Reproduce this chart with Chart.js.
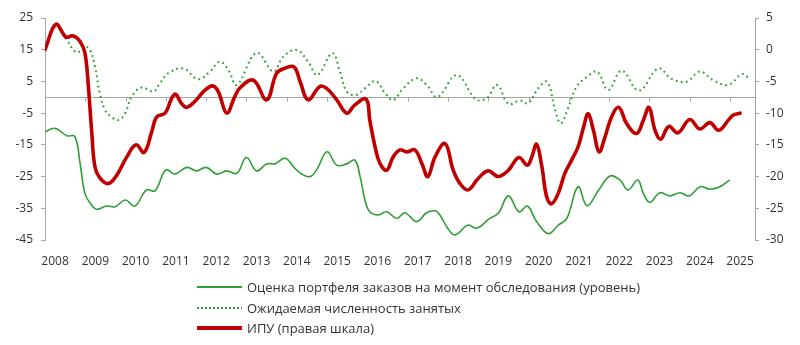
<!DOCTYPE html>
<html lang="ru">
<head>
<meta charset="utf-8">
<title>ИПУ и опросы</title>
<script src="https://cdn.jsdelivr.net/npm/chart.js@4/dist/chart.umd.min.js"></script>
<style>
    body { margin: 0; background: #fff; }
    #wrap { position: relative; width: 800px; height: 345px; }
    #chart { position: absolute; left: 0; top: 0; }
    .legend { position: absolute; left: 197px; top: 277px; font-family: 'Open Sans', sans-serif; font-size: 13px; color: #333; }
    .legend-row { display: flex; align-items: center; height: 20.5px; white-space: nowrap; }
    .swatch { width: 45px; margin-right: 5px; }
</style>
</head>
<body>
<div id="wrap">
    <canvas id="chart" width="800" height="345"></canvas>
    <div class="legend" id="legend"></div>
</div>
<script>
// Axis labels
const yearLabels = ['2008', '2009', '2010', '2011', '2012', '2013', '2014', '2015', '2016',
    '2017', '2018', '2019', '2020', '2021', '2022', '2023', '2024', '2025'];
const leftTicks = [-45, -35, -25, -15, -5, 5, 15, 25];
const rightTicks = [-30, -25, -20, -15, -10, -5, 0, 5];

// Оценка портфеля заказов (left scale)
const ordersDates = [2008.00, 2008.25, 2008.54, 2008.74, 2008.87, 2008.99, 2009.12, 2009.28, 2009.53, 2009.74,
    2009.99, 2010.23, 2010.52, 2010.73, 2011.00, 2011.23, 2011.52, 2011.76, 2012.00, 2012.26,
    2012.51, 2012.76, 2013.00, 2013.25, 2013.50, 2013.71, 2013.96, 2014.20, 2014.37, 2014.58,
    2014.74, 2015.00, 2015.24, 2015.49, 2015.69, 2015.82, 2015.94, 2016.06, 2016.27, 2016.48,
    2016.73, 2016.93, 2017.22, 2017.47, 2017.68, 2017.80, 2017.97, 2018.17, 2018.50, 2018.71,
    2019.04, 2019.25, 2019.50, 2019.76, 2019.97, 2020.20, 2020.49, 2020.74, 2020.95, 2021.23,
    2021.45, 2021.73, 2022.02, 2022.27, 2022.47, 2022.71, 2022.85, 2023.01, 2023.26, 2023.51,
    2023.76, 2023.99, 2024.26, 2024.50, 2024.75, 2024.98];
const ordersValues = [-10.9, -9.8, -12.1, -12.4, -20.8, -30.3, -33.4, -35.3, -34.3, -34.5,
    -32.4, -34.3, -29.2, -29.5, -22.9, -24.2, -22.1, -23.2, -22.1, -24.2,
    -23.2, -24.0, -19.0, -23.2, -21.0, -21.0, -19.2, -22.4, -24.2, -25.0,
    -22.9, -17.2, -21.4, -21.0, -19.8, -25.0, -32.4, -36.1, -37.1, -36.1,
    -38.2, -36.4, -39.2, -36.4, -35.8, -37.1, -40.8, -43.4, -40.3, -41.3,
    -38.2, -36.6, -31.1, -36.1, -34.3, -39.2, -43.0, -40.3, -38.2, -28.2,
    -34.2, -29.5, -24.8, -26.1, -29.2, -26.1, -30.3, -33.1, -30.1, -31.1,
    -30.1, -31.1, -28.2, -29.0, -28.2, -26.2];

// Ожидаемая численность занятых (left scale)
const employDates = [2008.50, 2008.79, 2008.99, 2009.12, 2009.24, 2009.36, 2009.49, 2009.66, 2009.82, 2009.99,
    2010.15, 2010.40, 2010.69, 2010.85, 2011.06, 2011.43, 2011.80, 2012.09, 2012.34, 2012.55,
    2012.76, 2013.25, 2013.67, 2013.91, 2014.25, 2014.53, 2014.76, 2015.13, 2015.32, 2015.49,
    2015.71, 2015.94, 2016.20, 2016.44, 2016.64, 2016.89, 2017.22, 2017.47, 2017.74, 2018.22,
    2018.69, 2018.96, 2019.22, 2019.50, 2019.79, 2019.99, 2020.24, 2020.46, 2020.66, 2020.80,
    2020.98, 2021.19, 2021.44, 2021.70, 2021.98, 2022.31, 2022.74, 2023.22, 2023.55, 2023.92,
    2024.25, 2024.58, 2024.96, 2025.29, 2025.48];
const employValues = [18.8, 14.1, 16.0, 14.9, 9.6, 1.3, -4.0, -6.3, -7.2, -5.0,
    0.2, 3.1, 1.8, 4.4, 7.6, 9.1, 5.7, 8.1, 11.2, 8.6,
    3.9, 14.0, 8.1, 12.8, 14.9, 11.2, 7.0, 13.9, 8.1, 1.8,
    0.7, 2.8, 5.1, 1.3, -0.9, 2.8, 6.0, 3.9, 0.1, 7.0,
    -0.6, -0.3, 3.9, -2.1, -1.0, -1.9, 2.8, 4.9, -4.0, -8.2,
    -3.5, 3.3, 6.3, 8.1, 2.3, 8.4, 2.1, 9.1, 5.8, 4.9,
    8.1, 5.4, 3.9, 7.3, 6.0];

// ИПУ (right scale)
const ipuDates = [2008.00, 2008.27, 2008.52, 2008.69, 2008.87, 2008.99, 2009.07, 2009.16, 2009.24, 2009.36,
    2009.57, 2009.78, 2010.03, 2010.26, 2010.46, 2010.65, 2010.77, 2010.98, 2011.14, 2011.24,
    2011.39, 2011.52, 2011.76, 2011.93, 2012.16, 2012.30, 2012.51, 2012.71, 2012.84, 2013.17,
    2013.50, 2013.75, 2013.96, 2014.18, 2014.33, 2014.53, 2014.82, 2014.99, 2015.24, 2015.49,
    2015.69, 2015.97, 2016.06, 2016.19, 2016.31, 2016.48, 2016.64, 2016.81, 2016.98, 2017.18,
    2017.35, 2017.50, 2017.68, 2017.93, 2018.13, 2018.30, 2018.50, 2018.75, 2019.00, 2019.25,
    2019.50, 2019.76, 2019.97, 2020.08, 2020.20, 2020.33, 2020.45, 2020.57, 2020.74, 2020.90,
    2021.07, 2021.23, 2021.37, 2021.48, 2021.61, 2021.75, 2021.90, 2022.06, 2022.24, 2022.43,
    2022.68, 2022.85, 2022.99, 2023.14, 2023.28, 2023.48, 2023.71, 2024.00, 2024.25, 2024.50,
    2024.72, 2024.96, 2025.08, 2025.25];
const ipuValues = [0.0, 4.0, 2.0, 2.2, 1.3, -0.5, -5.3, -13.0, -18.5, -20.2,
    -21.1, -19.8, -16.9, -15.0, -16.2, -12.9, -10.6, -10.0, -7.7, -7.0,
    -8.5, -9.1, -7.9, -6.6, -5.7, -6.6, -10.0, -7.4, -6.0, -4.8,
    -7.9, -3.7, -2.9, -2.7, -5.0, -7.9, -5.8, -6.1, -7.9, -10.0,
    -8.7, -7.8, -11.1, -15.3, -17.9, -19.0, -16.9, -15.8, -16.1, -15.8,
    -17.9, -20.0, -16.9, -14.8, -19.0, -21.1, -22.1, -20.3, -19.1, -20.0,
    -19.0, -17.0, -18.2, -16.9, -14.9, -18.4, -23.2, -24.3, -22.6, -19.5,
    -17.4, -15.3, -12.1, -10.1, -12.7, -16.1, -13.7, -10.6, -9.1, -11.6,
    -13.2, -11.1, -9.1, -12.7, -14.1, -12.1, -13.1, -11.0, -12.5, -11.5,
    -12.7, -11.1, -10.3, -10.0];

const legendLabels = [
    'Оценка портфеля заказов на момент обследования (уровень)',
    'Ожидаемая численность занятых',
    'ИПУ (правая шкала)'
];

const GREEN = '#2f9e35';
const RED = '#c00000';
const AXIS = '#a6a6a6';
const TICK_FONT = { family: 'Open Sans', size: 12 };

const toPoints = (xs, ys) => xs.map((x, i) => ({ x: x, y: ys[i] }));

// Zero line of the left scale with year ticks hanging below it
const zeroLine = {
    id: 'zeroLine',
    beforeDatasetsDraw(chart) {
        const { ctx, chartArea, scales } = chart;
        const y = Math.round(scales.y.getPixelForValue(0)) + 0.5;
        ctx.save();
        ctx.strokeStyle = AXIS;
        ctx.lineWidth = 1;
        ctx.beginPath();
        ctx.moveTo(chartArea.left, y);
        ctx.lineTo(chartArea.right, y);
        yearLabels.forEach(label => {
            const x = Math.round(scales.x.getPixelForValue(+label)) + 0.5;
            ctx.moveTo(x, y);
            ctx.lineTo(x, y + 4);
        });
        ctx.stroke();
        ctx.restore();
    }
};

// Initialize chart
const chart = new Chart(document.getElementById('chart'), {
    type: 'line',
    data: {
        datasets: [
            {
                label: legendLabels[0],
                data: toPoints(ordersDates, ordersValues),
                borderColor: GREEN,
                borderWidth: 1.6,
                yAxisID: 'y',
                order: 2
            },
            {
                label: legendLabels[1],
                data: toPoints(employDates, employValues),
                borderColor: GREEN,
                borderWidth: 2,
                borderDash: [1.8, 3.4],
                borderCapStyle: 'butt',
                yAxisID: 'y',
                order: 1
            },
            {
                label: legendLabels[2],
                data: toPoints(ipuDates, ipuValues),
                borderColor: RED,
                borderWidth: 3.6,
                yAxisID: 'y1',
                order: 0
            }
        ]
    },
    options: {
        responsive: false,
        animation: false,
        layout: { padding: { top: 18, left: 0, right: 0, bottom: 0 } },
        elements: {
            point: { radius: 0, hoverRadius: 0 },
            line: { tension: 0.4, fill: false, borderCapStyle: 'round', borderJoinStyle: 'round' }
        },
        plugins: {
            legend: { display: false },
            tooltip: { enabled: false }
        },
        scales: {
            x: {
                type: 'linear',
                min: 2008,
                max: 2025.62,
                afterBuildTicks: scale => {
                    scale.ticks = yearLabels.map(label => ({ value: +label + 0.25 }));
                },
                afterFit: scale => { scale.height = 105; },
                ticks: {
                    autoSkip: false,
                    maxRotation: 0,
                    padding: 6,
                    color: '#333',
                    font: TICK_FONT,
                    callback: (value, index) => yearLabels[index]
                },
                grid: { display: false },
                border: { display: false }
            },
            y: {
                position: 'left',
                min: -45,
                max: 25,
                afterBuildTicks: scale => {
                    scale.ticks = leftTicks.map(v => ({ value: v }));
                },
                afterFit: scale => { scale.width = 45; },
                ticks: { padding: 8, color: '#333', font: TICK_FONT },
                grid: { drawOnChartArea: false, drawTicks: true, tickLength: 4, color: AXIS },
                border: { display: true, color: AXIS }
            },
            y1: {
                position: 'right',
                min: -30,
                max: 5,
                afterBuildTicks: scale => {
                    scale.ticks = rightTicks.map(v => ({ value: v }));
                },
                afterFit: scale => { scale.width = 45; },
                ticks: { padding: 7, color: '#333', font: TICK_FONT },
                grid: { drawOnChartArea: false, drawTicks: true, tickLength: 4, color: AXIS },
                border: { display: true, color: AXIS }
            }
        }
    },
    plugins: [zeroLine]
});

// Legend rows under the chart
const legend = document.getElementById('legend');
const swatchStyles = [
    'height: 2px; background: ' + GREEN,
    'height: 2px; background: repeating-linear-gradient(90deg, ' + GREEN + ' 0 2px, transparent 2px 4px)',
    'height: 4px; background: ' + RED
];
legendLabels.forEach((text, i) => {
    const row = document.createElement('div');
    row.className = 'legend-row';
    row.innerHTML = `<span class="swatch" style="${swatchStyles[i]}"></span><span>${text}</span>`;
    legend.appendChild(row);
});
</script>
</body>
</html>
